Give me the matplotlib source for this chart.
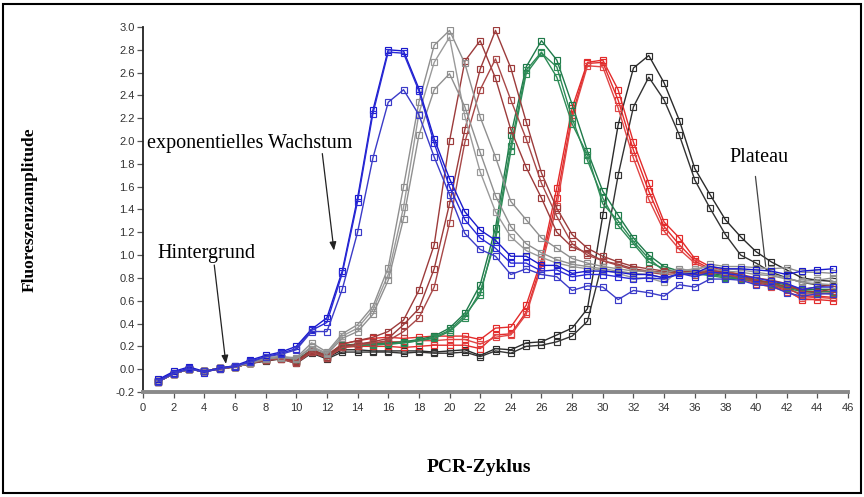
import matplotlib
matplotlib.use("Agg")
import matplotlib.pyplot as plt
from matplotlib.patches import Rectangle

cycles = list(range(1, 46))

blue_1 = [-0.09,-0.02,0.02,-0.02,0.01,0.03,0.08,0.12,0.15,0.20,0.35,0.45,0.86,1.50,2.27,2.80,2.79,2.46,2.02,1.67,1.38,1.22,1.13,0.99,0.99,0.91,0.91,0.84,0.86,0.86,0.85,0.83,0.83,0.80,0.83,0.84,0.90,0.88,0.88,0.87,0.86,0.83,0.86,0.87,0.88]
blue_2 = [-0.10,-0.03,0.01,-0.03,0.01,0.02,0.07,0.11,0.14,0.18,0.34,0.41,0.84,1.47,2.24,2.78,2.77,2.44,1.98,1.60,1.31,1.15,1.06,0.93,0.93,0.86,0.87,0.81,0.83,0.83,0.81,0.79,0.80,0.79,0.84,0.81,0.85,0.84,0.82,0.80,0.77,0.75,0.70,0.72,0.72]
blue_3 = [-0.11,-0.04,0.00,-0.02,0.00,0.03,0.06,0.11,0.13,0.17,0.33,0.33,0.70,1.20,1.85,2.34,2.45,2.23,1.86,1.53,1.19,1.05,0.99,0.83,0.88,0.83,0.81,0.69,0.73,0.72,0.61,0.69,0.67,0.64,0.74,0.72,0.79,0.79,0.78,0.74,0.73,0.67,0.64,0.66,0.66]

gray_1 = [-0.10,-0.04,0.00,-0.02,0.01,0.03,0.06,0.10,0.11,0.10,0.23,0.15,0.31,0.39,0.55,0.89,1.60,2.34,2.84,2.97,2.68,2.21,1.86,1.47,1.31,1.15,1.06,0.97,0.93,0.90,0.88,0.86,0.86,0.84,0.88,0.86,0.92,0.90,0.90,0.89,0.88,0.89,0.85,0.85,0.84]
gray_2 = [-0.10,-0.03,0.00,-0.02,0.01,0.02,0.06,0.10,0.11,0.09,0.20,0.14,0.29,0.36,0.52,0.83,1.42,2.24,2.69,2.91,2.22,1.73,1.38,1.16,1.04,0.98,0.93,0.90,0.88,0.87,0.84,0.80,0.80,0.76,0.86,0.88,0.90,0.88,0.87,0.85,0.83,0.80,0.76,0.75,0.74]
gray_3 = [-0.11,-0.04,0.00,-0.02,0.01,0.02,0.05,0.09,0.10,0.09,0.19,0.13,0.27,0.33,0.48,0.78,1.32,2.05,2.45,2.59,2.30,1.90,1.52,1.25,1.10,1.02,0.96,0.92,0.90,0.88,0.86,0.84,0.83,0.80,0.84,0.85,0.88,0.86,0.85,0.83,0.82,0.79,0.77,0.78,0.80]

brown_1 = [-0.11,-0.04,0.00,-0.02,0.01,0.02,0.05,0.08,0.10,0.07,0.17,0.12,0.22,0.25,0.28,0.33,0.43,0.69,1.09,2.00,2.70,2.88,2.55,2.10,1.77,1.50,1.20,1.07,1.02,0.95,0.92,0.88,0.86,0.85,0.85,0.84,0.86,0.84,0.82,0.78,0.76,0.72,0.70,0.72,0.74]
brown_2 = [-0.10,-0.04,0.00,-0.02,0.01,0.02,0.05,0.08,0.10,0.06,0.16,0.11,0.20,0.22,0.24,0.27,0.39,0.53,0.88,1.45,2.10,2.63,2.97,2.64,2.17,1.72,1.41,1.18,1.06,0.99,0.94,0.90,0.88,0.86,0.86,0.85,0.87,0.85,0.83,0.80,0.78,0.75,0.68,0.68,0.70]
brown_3 = [-0.11,-0.04,0.00,-0.02,0.00,0.02,0.05,0.08,0.09,0.05,0.15,0.10,0.19,0.21,0.23,0.25,0.33,0.45,0.72,1.28,1.99,2.45,2.72,2.36,2.02,1.63,1.34,1.10,1.00,0.95,0.91,0.87,0.85,0.83,0.84,0.83,0.85,0.83,0.80,0.77,0.74,0.70,0.66,0.66,0.67]

green_1 = [-0.10,-0.04,0.00,-0.02,0.01,0.02,0.05,0.09,0.10,0.08,0.17,0.12,0.21,0.22,0.22,0.23,0.24,0.26,0.29,0.36,0.49,0.74,1.24,2.05,2.65,2.88,2.71,2.32,1.91,1.56,1.35,1.15,1.00,0.90,0.86,0.86,0.84,0.82,0.80,0.78,0.76,0.74,0.70,0.70,0.70]
green_2 = [-0.10,-0.03,0.00,-0.02,0.01,0.02,0.05,0.08,0.10,0.07,0.16,0.11,0.20,0.21,0.21,0.22,0.23,0.25,0.27,0.33,0.45,0.68,1.13,1.91,2.59,2.77,2.65,2.20,1.83,1.50,1.26,1.10,0.94,0.88,0.85,0.84,0.82,0.80,0.79,0.77,0.74,0.71,0.68,0.67,0.66]
green_3 = [-0.11,-0.04,0.00,-0.02,0.01,0.02,0.05,0.08,0.10,0.07,0.16,0.11,0.20,0.21,0.22,0.22,0.23,0.25,0.28,0.34,0.47,0.65,1.18,1.96,2.62,2.78,2.56,2.15,1.88,1.45,1.30,1.12,0.97,0.86,0.85,0.83,0.83,0.81,0.80,0.78,0.75,0.72,0.69,0.68,0.68]

red_1 = [-0.10,-0.03,0.00,-0.02,0.01,0.02,0.05,0.08,0.10,0.07,0.17,0.12,0.22,0.25,0.27,0.28,0.27,0.28,0.29,0.29,0.29,0.26,0.36,0.37,0.56,0.96,1.59,2.29,2.69,2.71,2.45,1.99,1.63,1.29,1.15,0.97,0.90,0.86,0.83,0.78,0.75,0.72,0.64,0.64,0.63]
red_2 = [-0.11,-0.04,0.00,-0.02,0.01,0.02,0.05,0.08,0.09,0.06,0.15,0.10,0.19,0.20,0.20,0.20,0.19,0.20,0.21,0.21,0.21,0.18,0.30,0.31,0.50,0.93,1.50,2.23,2.68,2.69,2.36,1.92,1.56,1.25,1.09,0.95,0.88,0.84,0.80,0.76,0.73,0.69,0.61,0.61,0.60]
red_3 = [-0.10,-0.04,0.00,-0.02,0.01,0.02,0.05,0.08,0.10,0.06,0.16,0.11,0.20,0.22,0.23,0.24,0.24,0.25,0.25,0.26,0.26,0.22,0.28,0.30,0.48,0.90,1.43,2.20,2.66,2.65,2.29,1.85,1.49,1.21,1.05,0.93,0.87,0.83,0.79,0.75,0.72,0.68,0.62,0.63,0.62]

black_1 = [-0.10,-0.04,0.00,-0.02,0.01,0.02,0.05,0.08,0.10,0.06,0.15,0.10,0.17,0.17,0.16,0.16,0.16,0.16,0.15,0.16,0.17,0.12,0.18,0.17,0.23,0.24,0.30,0.36,0.53,1.35,2.14,2.64,2.75,2.51,2.18,1.76,1.53,1.31,1.16,1.03,0.94,0.87,0.80,0.78,0.77]
black_2 = [-0.11,-0.04,0.00,-0.02,0.00,0.02,0.05,0.07,0.09,0.05,0.14,0.09,0.15,0.15,0.15,0.15,0.14,0.15,0.14,0.14,0.15,0.11,0.16,0.14,0.20,0.21,0.24,0.29,0.42,0.95,1.70,2.30,2.56,2.36,2.05,1.66,1.41,1.18,1.00,0.93,0.85,0.80,0.76,0.74,0.73]

series = [
    (black_1, "#2b2b2b"), (black_2, "#333333"),
    (red_1, "#e32b2b"), (red_2, "#e32b2b"), (red_3, "#e04545"),
    (green_1, "#1f7a4a"), (green_2, "#2e8b57"), (green_3, "#2e8b57"),
    (brown_1, "#9c3b3b"), (brown_2, "#9c3b3b"), (brown_3, "#a84848"),
    (gray_1, "#8f8f8f"), (gray_2, "#9a9a9a"), (gray_3, "#8f8f8f"),
    (blue_1, "#1a1acc"), (blue_2, "#2a2ad6"), (blue_3, "#3b3bc8"),
]

x_ticks = list(range(0, 47, 2))
y_ticks = [-0.2, 0.0, 0.2, 0.4, 0.6, 0.8, 1.0, 1.2, 1.4, 1.6, 1.8, 2.0, 2.2, 2.4, 2.6, 2.8, 3.0]

fig = plt.figure(figsize=(8.64, 4.97), dpi=100)
ax = fig.add_axes([0.1655, 0.2113, 0.8160, 0.7344])

for vals, col in series:
    ax.plot(cycles, vals, color=col, lw=1.0, marker="s", ms=4.0,
            mfc="none", mec=col, mew=0.85, zorder=2)

ax.set_xlim(0, 46)
ax.set_ylim(-0.2, 3.0)
ax.set_xticks(x_ticks)
ax.set_xticklabels([str(t) for t in x_ticks])
ax.set_yticks(y_ticks)
ax.set_yticklabels([f"{t:.1f}" for t in y_ticks])
for s in ["top", "right"]:
    ax.spines[s].set_visible(False)
ax.spines["left"].set_color("#222222")
ax.spines["left"].set_linewidth(1.3)
ax.spines["bottom"].set_color("#8a8a8a")
ax.spines["bottom"].set_linewidth(2.8)
ax.tick_params(axis="x", direction="out", length=4, width=0.9, color="#555555",
               labelsize=8, labelcolor="#333333", pad=4)
ax.tick_params(axis="y", direction="out", length=4, width=0.9, color="#555555",
               labelsize=8, labelcolor="#333333", pad=2)
for lab in ax.get_xticklabels() + ax.get_yticklabels():
    lab.set_family("Liberation Sans")

serif = "Liberation Serif"
ax.text(0.29, 1.98, "exponentielles Wachstum", family=serif, fontsize=14.5,
        ha="left", va="center")
ax.text(0.94, 1.01, "Hintergrund", family=serif, fontsize=14.5, ha="left", va="center")
ax.text(38.27, 1.86, "Plateau", family=serif, fontsize=14.5, ha="left", va="center")

arrow_kw = dict(arrowstyle="-|>,head_length=0.5,head_width=0.2", color="#222222", lw=0.9,
                shrinkA=0, shrinkB=0)
ax.annotate("", xy=(12.46, 1.04), xytext=(11.70, 1.89), arrowprops=arrow_kw)
ax.annotate("", xy=(5.41, 0.046), xytext=(4.65, 0.913), arrowprops=arrow_kw)
ax.annotate("", xy=(40.63, 0.90), xytext=(39.96, 1.69),
            arrowprops=dict(arrowstyle="-", color="#444444", lw=0.9, shrinkA=0, shrinkB=0))

fig.text(30 / 864, 1 - 210 / 497, "Fluoreszenzamplitude", family=serif, fontsize=12.5,
         fontweight="bold", rotation=90, ha="center", va="center")
fig.text(479 / 864, 1 - 468 / 497, "PCR-Zyklus", family=serif, fontsize=14,
         fontweight="bold", ha="center", va="center")

fig.patches.append(Rectangle((3 / 864, 4 / 497), 858 / 864, 489 / 497,
                             transform=fig.transFigure, fill=False,
                             edgecolor="black", linewidth=1.5))

fig.savefig("out.png", dpi=100)
